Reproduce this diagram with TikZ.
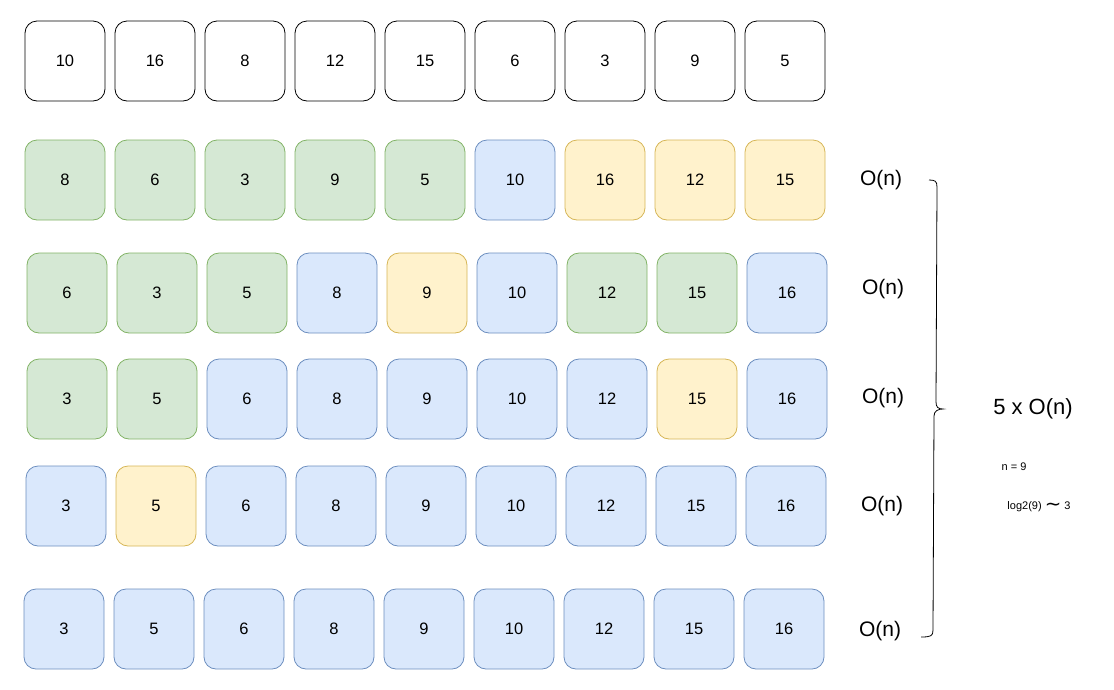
\documentclass[tikz,border=0pt]{standalone}
\usepackage{fontspec}
\usepackage{graphicx}
\setmainfont{Liberation Sans}
\newfontfamily\dejavu{DejaVu Sans}
\definecolor{gfill}{HTML}{D5E8D4}\definecolor{gdraw}{HTML}{82B366}
\definecolor{bfill}{HTML}{DAE8FC}\definecolor{bdraw}{HTML}{6C8EBF}
\definecolor{yfill}{HTML}{FFF2CC}\definecolor{ydraw}{HTML}{D6B656}
\begin{document}
\begin{tikzpicture}[x=1pt,y=-1pt,
  cell/.style={rounded corners=12pt,minimum width=80pt,minimum height=80pt,line width=0.8pt,inner sep=0pt,font=\fontsize{16.5}{18}\selectfont},
  W/.style={cell,draw=black,fill=white},
  G/.style={cell,draw=gdraw,fill=gfill},
  B/.style={cell,draw=bdraw,fill=bfill},
  Y/.style={cell,draw=ydraw,fill=yfill},
  big/.style={font=\fontsize{21}{24}\selectfont},
  small/.style={font=\fontsize{11}{13}\selectfont}]
\useasboundingbox (0,0) rectangle (1114,689);
\foreach \s/\v [count=\i from 0] in {W/10,W/16,W/8,W/12,W/15,W/6,W/3,W/9,W/5}
  \node[\s] (r0c\i) at (65+90*\i,61) {\v};
\foreach \s/\v [count=\i from 0] in {G/8,G/6,G/3,G/9,G/5,B/10,Y/16,Y/12,Y/15}
  \node[\s] (r1c\i) at (65+90*\i,180) {\v};
\foreach \s/\v [count=\i from 0] in {G/6,G/3,G/5,B/8,Y/9,B/10,G/12,G/15,B/16}
  \node[\s] (r2c\i) at (67+90*\i,293) {\v};
\foreach \s/\v [count=\i from 0] in {G/3,G/5,B/6,B/8,B/9,B/10,B/12,Y/15,B/16}
  \node[\s] (r3c\i) at (67+90*\i,399) {\v};
\foreach \s/\v [count=\i from 0] in {B/3,Y/5,B/6,B/8,B/9,B/10,B/12,B/15,B/16}
  \node[\s] (r4c\i) at (66+90*\i,506) {\v};
\foreach \s/\v [count=\i from 0] in {B/3,B/5,B/6,B/8,B/9,B/10,B/12,B/15,B/16}
  \node[\s] (r5c\i) at (64+90*\i,629) {\v};
% O(n) labels
\node[big] (o1) at (881,180) {O(n)};
\node[big] (o2) at (883,289) {O(n)};
\node[big] (o3) at (883,398) {O(n)};
\node[big] (o4) at (882,506) {O(n)};
\node[big] (o5) at (880,631) {O(n)};
% brace
\draw[line width=0.8pt] (929,180) .. controls (935,180) and (937,181) .. (937,187)
  -- (936,402) .. controls (936,407) and (938,409) .. (943,409)
  .. controls (938,409) and (934,411) .. (934,416)
  -- (933,630) .. controls (933,636) and (931,637) .. (921,637);
\node[font=\fontsize{22}{25}\selectfont] (tot) at (1033,409) {5 x O(n)};
\node[small] (nn) at (1014,467) {n = 9};
\node[small] (lg) at (1039,507) {log2(9) {\dejavu\raisebox{-0.3pt}{\scalebox{1.8}[1.7]{∼}}} 3};
\end{tikzpicture}
\end{document}
